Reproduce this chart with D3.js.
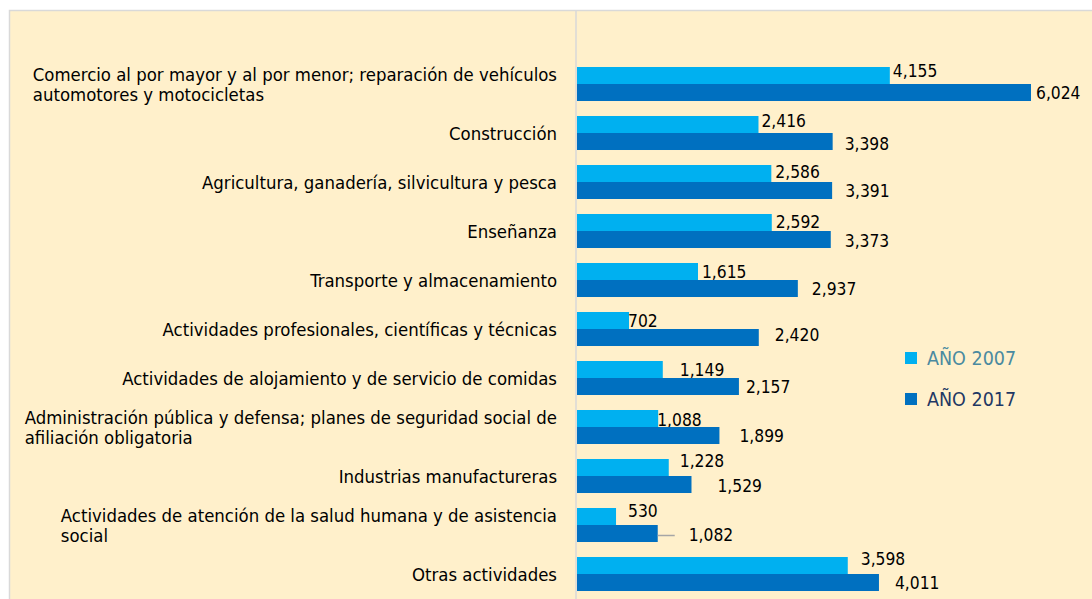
<!DOCTYPE html>
<html>
<head>
<meta charset="utf-8">
<script src="https://cdn.jsdelivr.net/npm/d3@7"></script>
<style>
  html, body { margin: 0; padding: 0; background: #ffffff; }
  svg { display: block; }
  text { font-family: "DejaVu Sans Condensed", "DejaVu Sans", sans-serif; }
</style>
</head>
<body>
<svg id="chart" width="1092" height="599"></svg>
<script>
// ---- data ----
const categories = [
  "Comercio al por mayor y al por menor; reparación de vehículos\nautomotores y motocicletas",
  "Construcción",
  "Agricultura, ganadería, silvicultura y pesca",
  "Enseñanza",
  "Transporte y almacenamiento",
  "Actividades profesionales, científicas y técnicas",
  "Actividades de alojamiento y de servicio de comidas",
  "Administración pública y defensa; planes de seguridad social de\nafiliación obligatoria",
  "Industrias manufactureras",
  "Actividades de atención de la salud humana y de asistencia\nsocial",
  "Otras actividades"
];
const seriesNames = ["AÑO 2007", "AÑO 2017"];
const values2007 = [4155, 2416, 2586, 2592, 1615, 702, 1149, 1088, 1228, 530, 3598];
const values2017 = [6024, 3398, 3391, 3373, 2937, 2420, 2157, 1899, 1529, 1082, 4011];

// label nudges (layout only, mimic hand-placed data labels)
const labelDx2007 = [3, 3, 4, 4, 4, -1, 17, -1, 11, 12, 13];
const labelDy2007 = [-5, -4, -1.5, -0.5, 0, 0, 0, 1, -6.5, -6, -6.5];
const labelDx2017 = [5, 12, 13, 14, 14, 16, 7, 20, 26, 31, 16];
const labelDy2017 = [0, 2.5, 0, 1.5, 0.5, -2.5, 0, 0, 1, 1, 0];

const colors = ["#00B0F0", "#0070C0"];

// ---- drawing ----
const svg = d3.select("#chart");
const W = 1092, H = 599;

svg.append("rect")
  .attr("x", 9.5).attr("y", 10.5)
  .attr("width", W + 20).attr("height", H + 20)
  .attr("fill", "#FFF0CB").attr("stroke", "#D9D9D9").attr("stroke-width", 1.5);

const x = d3.scaleLinear().domain([0, 6024]).range([576, 1031]);
const y = d3.scaleBand().domain(d3.range(categories.length))
  .range([59.5, 598.5]).paddingInner(0.306).paddingOuter(0.153);
const ySub = d3.scaleBand().domain([0, 1]).range([0, y.bandwidth()]);

// axis line
svg.append("line")
  .attr("x1", x(0)).attr("x2", x(0))
  .attr("y1", 11).attr("y2", H)
  .attr("stroke", "#D9D9D9").attr("stroke-width", 1.5);

const series = [values2007, values2017];
const dxs = [labelDx2007, labelDx2017];
const dys = [labelDy2007, labelDy2017];
const fsVal = 17.3;
const fsCat = 18.4;

series.forEach((vals, s) => {
  const g = svg.append("g");
  g.selectAll("rect").data(vals).join("rect")
    .attr("x", x(0) + 1)
    .attr("y", (d, i) => y(i) + ySub(s))
    .attr("width", d => x(d) - x(0) - 1)
    .attr("height", ySub.bandwidth())
    .attr("fill", colors[s]);
  g.selectAll("text").data(vals).join("text")
    .attr("x", (d, i) => x(d) + dxs[s][i])
    .attr("y", (d, i) => y(i) + ySub(s) + ySub.bandwidth() / 2 + dys[s][i] + fsVal * 0.36)
    .attr("font-size", fsVal)
    .attr("fill", "#000")
    .text(d => d3.format(",")(d));
});

// leader line for small label
{
  const i = 9;
  const yy = y(i) + ySub(1) + ySub.bandwidth() / 2 + 2;
  svg.append("line")
    .attr("x1", x(values2017[i])).attr("x2", x(values2017[i]) + 17)
    .attr("y1", yy).attr("y2", yy)
    .attr("stroke", "#A6A6A6").attr("stroke-width", 1.5);
}

// category labels: block right-aligned at 557, lines left-aligned inside block
const catG = svg.append("g");
categories.forEach((c, i) => {
  const lines = c.split("\n");
  const cy = y(i) + y.bandwidth() / 2;
  const lh = 20;
  const t = catG.append("text")
    .attr("font-size", fsCat)
    .attr("fill", "#000");
  const spans = lines.map((ln, k) => t.append("tspan")
      .attr("x", 0)
      .attr("y", cy + (k - (lines.length - 1) / 2) * lh + fsCat * 0.36)
      .text(ln));
  const maxW = d3.max(spans, sp => sp.node().getComputedTextLength());
  spans.forEach(sp => sp.attr("x", 557 - maxW));
});

// legend
const legY = [358, 399];
const legTextColors = ["#4A8AA0", "#1F3864"];
seriesNames.forEach((n, s) => {
  svg.append("rect")
    .attr("x", 905).attr("y", legY[s] - 6)
    .attr("width", 12).attr("height", 12)
    .attr("fill", colors[s]);
  svg.append("text")
    .attr("x", 927).attr("y", legY[s] + 7)
    .attr("font-size", 19.5)
    .attr("fill", legTextColors[s])
    .text(n);
});
</script>
</body>
</html>
